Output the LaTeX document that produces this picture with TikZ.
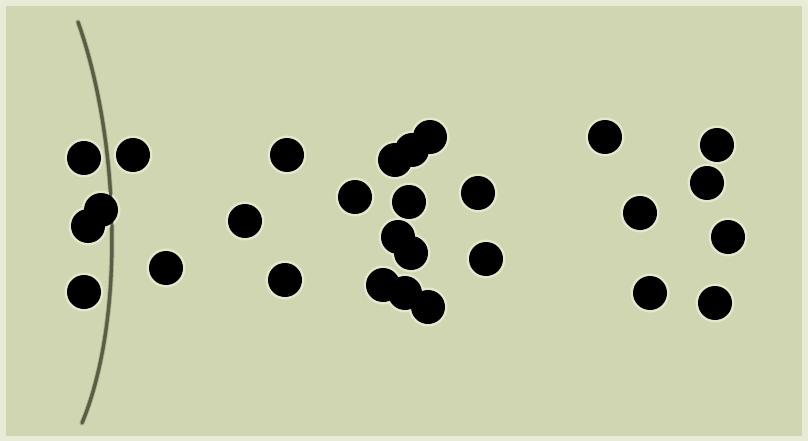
\documentclass[tikz,border=0pt]{standalone}
\definecolor{bgc}{HTML}{D0D6B2}
\definecolor{edgec}{HTML}{E8ECD6}
\definecolor{halo}{HTML}{E4E8CC}
\definecolor{stemc}{HTML}{5A5C44}
\definecolor{stemhi}{HTML}{A9AC90}
\begin{document}
\begin{tikzpicture}[x=1pt,y=-1pt,
  dothalo/.style={circle,fill=halo,minimum size=39pt,inner sep=0pt},
  dot/.style={circle,fill=black,minimum size=34pt,inner sep=0pt}]
\useasboundingbox (0,0) rectangle (808,441);
\fill[edgec] (0,0) rectangle (808,441);
\fill[bgc] (6,6) rectangle (802,436);
% curved stem
\draw[stemhi,line width=5pt,line cap=round] (78,22) .. controls (120,140) and (125,320) .. (82,423);
\draw[stemc,line width=3pt,line cap=round] (78,22) .. controls (120,140) and (125,320) .. (82,423);
\def\dotlist{{(84,158)}/a1,{(133,155)}/a2,{(101,210)}/a3,{(88,226)}/a4,{(84,292)}/a5,{(166,268)}/a6,
  {(287,155)}/b1,{(245,221)}/b2,{(285,280)}/b3,{(355,197)}/b4,
  {(395,160)}/b5,{(412,150)}/b6,{(430,137)}/b7,{(409,202)}/b8,
  {(398,237)}/b9,{(411,253)}/b10,{(383,285)}/b11,{(405,293)}/b12,{(428,307)}/b13,
  {(478,193)}/b14,{(486,259)}/b15,
  {(605,137)}/c1,{(717,145)}/c2,{(707,183)}/c3,{(640,213)}/c4,
  {(728,237)}/c5,{(650,293)}/c6,{(715,303)}/c7}
% halos first, then the dots, so overlapping dots merge
\foreach \p/\n in \dotlist \node[dothalo] (h\n) at \p {};
\draw[stemc,line width=3pt] (78,22) .. controls (120,140) and (125,320) .. (82,423);
\foreach \p/\n in \dotlist \node[dot] (\n) at \p {};
\end{tikzpicture}
\end{document}
